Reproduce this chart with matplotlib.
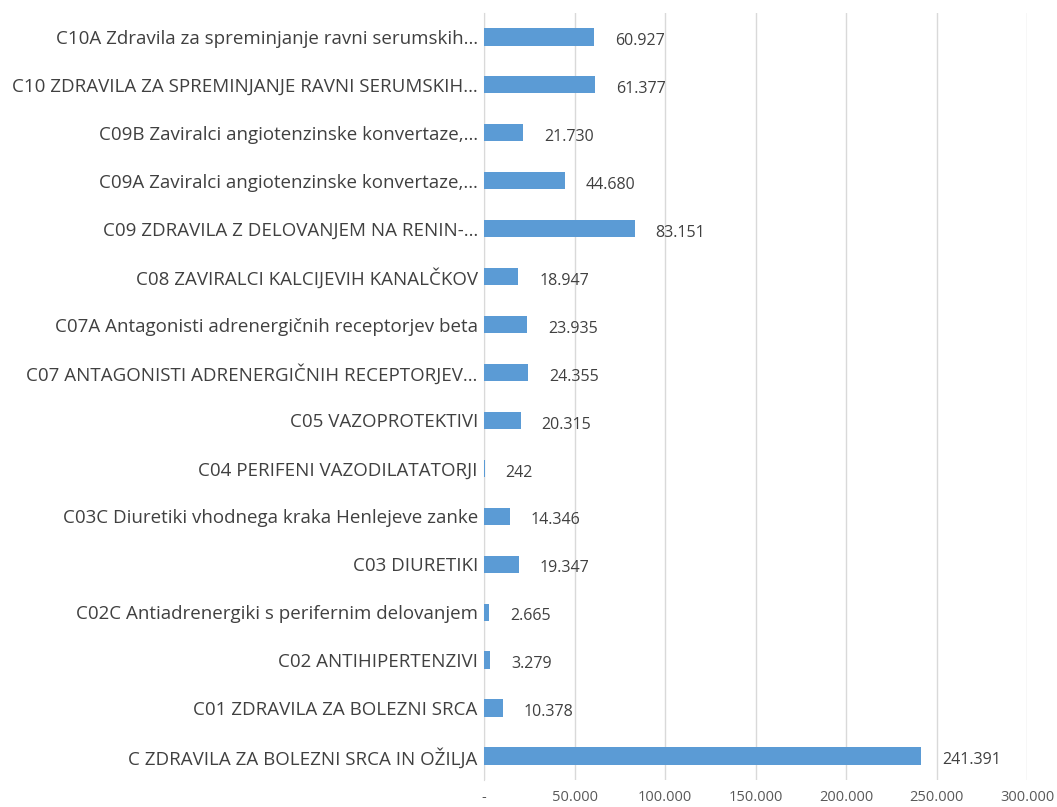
import matplotlib
matplotlib.use("Agg")
import matplotlib.pyplot as plt
from matplotlib.ticker import FuncFormatter

categories = [
    "C ZDRAVILA ZA BOLEZNI SRCA IN OŽILJA",
    "C01 ZDRAVILA ZA BOLEZNI SRCA",
    "C02 ANTIHIPERTENZIVI",
    "C02C Antiadrenergiki s perifernim delovanjem",
    "C03 DIURETIKI",
    "C03C Diuretiki vhodnega kraka Henlejeve zanke",
    "C04 PERIFENI VAZODILATATORJI",
    "C05 VAZOPROTEKTIVI",
    "C07 ANTAGONISTI ADRENERGIČNIH RECEPTORJEV…",
    "C07A Antagonisti adrenergičnih receptorjev beta",
    "C08 ZAVIRALCI KALCIJEVIH KANALČKOV",
    "C09 ZDRAVILA Z DELOVANJEM NA RENIN-…",
    "C09A Zaviralci angiotenzinske konvertaze,…",
    "C09B Zaviralci angiotenzinske konvertaze,…",
    "C10 ZDRAVILA ZA SPREMINJANJE RAVNI SERUMSKIH…",
    "C10A Zdravila za spreminjanje ravni serumskih…",
]
values = [241391, 10378, 3279, 2665, 19347, 14346, 242, 20315,
          24355, 23935, 18947, 83151, 44680, 21730, 61377, 60927]
xticks = [0, 50000, 100000, 150000, 200000, 250000, 300000]

def fmt(v):
    if v == 0:
        return "-"
    return f"{int(v):,}".replace(",", ".")

plt.rcParams['font.family'] = ['Open Sans', 'DejaVu Sans']
fig = plt.figure(figsize=(10.57, 8.07), dpi=100)
ax = fig.add_axes([0.458, 0.0335, 0.5137, 0.9505])

y = list(range(len(categories)))
ax.barh(y, values, height=0.36, color="#5B9BD5", zorder=3)
for yi, v in zip(y, values):
    ax.annotate(fmt(v), (v, yi), xytext=(15, -3), textcoords="offset points",
                va="center", ha="left", fontsize=11.5, color="#404040")

ax.set_xlim(0, 300000)
ax.set_ylim(-0.5, len(categories) - 0.5)
ax.set_xticks(xticks)
ax.xaxis.set_major_formatter(FuncFormatter(lambda v, p: fmt(v)))
ax.set_yticks(y)
ax.set_yticklabels(categories, fontsize=13.5, color="#404040")
ax.tick_params(axis="x", labelsize=10.5, colors="#595959", length=0, pad=7)
ax.tick_params(axis="y", length=0, pad=4.5)
ax.grid(axis="x", color="#D9D9D9", linewidth=1, zorder=0)
for s in ["top", "right", "bottom"]:
    ax.spines[s].set_visible(False)
ax.spines["left"].set_color("#D9D9D9")

fig.savefig("out.png", dpi=100)
